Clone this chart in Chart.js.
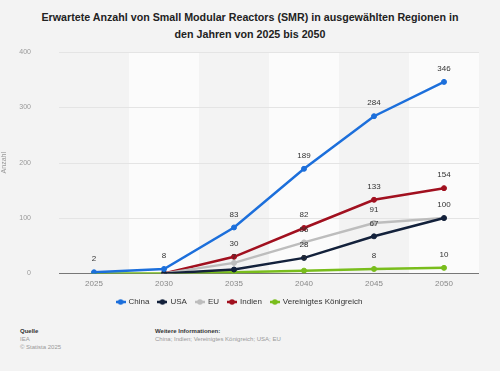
<!DOCTYPE html>
<html>
<head>
<meta charset="utf-8">
<script src="https://cdn.jsdelivr.net/npm/chart.js@4/dist/chart.umd.min.js"></script>
<style>
  html, body { margin:0; padding:0; background:#f3f3f3; }
  body { width:500px; height:371px; position:relative; overflow:hidden; font-family:"Liberation Sans", Arial, sans-serif; }
  #title { position:absolute; left:0; top:9px; width:500px; text-align:center; font-weight:bold; font-size:10.7px; line-height:17px; color:#222; }
  #wrap { position:absolute; left:0; top:0; width:500px; height:318px; }
  .foot { position:absolute; font-size:6px; line-height:8px; color:#999; }
  .foot b { color:#333; font-weight:bold; }
</style>
</head>
<body>
<div id="title">Erwartete Anzahl von Small Modular Reactors (SMR) in ausgewählten Regionen in<br>den Jahren von 2025 bis 2050</div>
<div id="wrap"><canvas id="c" width="500" height="318"></canvas></div>
<div class="foot" style="left:20px;top:327px;"><b>Quelle</b><br>IEA<br>© Statista 2025</div>
<div class="foot" style="left:155px;top:327px;"><b>Weitere Informationen:</b><br>China; Indien; Vereinigtes Königreich; USA; EU</div>
<script>
const years = ['2025','2030','2035','2040','2045','2050'];
const china = [2, 8, 83, 189, 284, 346];
const usa = [null, 0, 7, 28, 67, 100];
const eu = [null, 0, 19, 56, 91, 100];
const indien = [null, 0, 30, 82, 133, 154];
const uk = [0, 0, 2, 5, 8, 10];
const yTicks = [0, 100, 200, 300, 400];

const bands = {
  id: 'bands',
  beforeDatasetsDraw(chart) {
    const {ctx, chartArea:a, scales:{x}} = chart;
    ctx.save();
    ctx.fillStyle = '#fbfbfb';
    const step = x.getPixelForValue(1) - x.getPixelForValue(0);
    for (let i = 1; i < years.length; i += 2) {
      const cx = x.getPixelForValue(i);
      ctx.fillRect(cx - step/2, a.top, step, a.bottom - a.top);
    }
    const y = chart.scales.y;
    ctx.strokeStyle = '#e4e4e4';
    ctx.lineWidth = 1;
    yTicks.forEach(v => {
      if (v === 0) return;
      const py = Math.round(y.getPixelForValue(v)) + 0.5;
      ctx.beginPath(); ctx.moveTo(a.left, py); ctx.lineTo(a.right, py); ctx.stroke();
    });
    ctx.strokeStyle = '#777';
    const p0 = Math.round(y.getPixelForValue(0)) + 0.5;
    ctx.beginPath(); ctx.moveTo(a.left, p0); ctx.lineTo(a.right, p0); ctx.stroke();
    ctx.restore();
  }
};

const labels = {
  id: 'labels',
  afterDatasetsDraw(chart) {
    const {ctx} = chart;
    ctx.save();
    ctx.font = '8px "Liberation Sans", Arial, sans-serif';
    ctx.fillStyle = '#333';
    ctx.textAlign = 'center';
    ctx.textBaseline = 'middle';
    const order = [0, 3, 2, 1, 4];
    const placed = [];
    order.forEach(di => {
      const ds = chart.data.datasets[di];
      const meta = chart.getDatasetMeta(di);
      ds.data.forEach((v, i) => {
        if (v === null || v === 0) return;
        const pt = meta.data[i];
        const lx = pt.x, ly = pt.y - 13;
        const txt = String(v);
        const w = ctx.measureText(txt).width;
        const box = {l: lx - w/2 - 1, r: lx + w/2 + 1, t: ly - 5, b: ly + 5};
        const hit = placed.some(p => !(box.r < p.l || box.l > p.r || box.b < p.t || box.t > p.b));
        if (hit) return;
        placed.push(box);
        ctx.fillText(txt, lx, ly);
      });
    });
    ctx.restore();
  }
};

function legendIcon(color) {
  const c = document.createElement('canvas');
  c.width = 10; c.height = 6;
  const g = c.getContext('2d');
  g.strokeStyle = color; g.fillStyle = color; g.lineWidth = 2.5;
  g.beginPath(); g.moveTo(0, 3); g.lineTo(10, 3); g.stroke();
  g.beginPath(); g.arc(5, 3, 2.8, 0, Math.PI * 2); g.fill();
  return c;
}

function ds(label, data, color) {
  return { label, data, borderColor: color, backgroundColor: color, pointBackgroundColor: color,
    pointBorderColor: color, borderWidth: 2.5, pointRadius: 2.5, pointBorderWidth: 1, pointHoverRadius: 2.5, tension: 0, spanGaps: false };
}

new Chart(document.getElementById('c'), {
  type: 'line',
  data: {
    labels: years,
    datasets: [
      ds('China', china, '#1c6fdb'),
      ds('USA', usa, '#13213b'),
      ds('EU', eu, '#bdbdbd'),
      ds('Indien', indien, '#a1101f'),
      ds('Vereinigtes Königreich', uk, '#79bd1c')
    ]
  },
  options: {
    responsive: false,
    animation: false,
    layout: { padding: { top: 52, right: 21, left: 0, bottom: 2 } },
    plugins: {
      legend: {
        position: 'bottom',
        labels: {
          usePointStyle: true, boxWidth: 10, boxHeight: 6,
          color: '#333', font: { size: 8, family: '"Liberation Sans", Arial, sans-serif' }, padding: 9,
          generateLabels(chart) {
            return chart.data.datasets.map((d, i) => ({
              text: d.label, fillStyle: d.borderColor, strokeStyle: d.borderColor, lineWidth: 0,
              pointStyle: legendIcon(d.borderColor), hidden: false, datasetIndex: i, fontColor: '#333'
            }));
          }
        }
      },
      tooltip: { enabled: false }
    },
    scales: {
      x: {
        offset: true,
        afterFit(s) { s.height = s.height - 6; },
        grid: { display: false, drawTicks: false },
        border: { display: false },
        ticks: { color: '#888', font: { size: 8, family: '"Liberation Sans", Arial, sans-serif' }, padding: 6 }
      },
      y: {
        min: 0, max: 400,
        afterBuildTicks(s) { s.ticks = yTicks.map(v => ({value: v})); },
        afterFit(s) { s.width = 59; },
        grid: { display: false, drawTicks: false },
        border: { display: false },
        title: { display: true, text: 'Anzahl', color: '#999', font: { size: 7, family: '"Liberation Sans", Arial, sans-serif' }, padding: 0 },
        ticks: { color: '#999', font: { size: 7, family: '"Liberation Sans", Arial, sans-serif' }, padding: 28 }
      }
    }
  },
  plugins: [bands, labels]
});
</script>
</body>
</html>
